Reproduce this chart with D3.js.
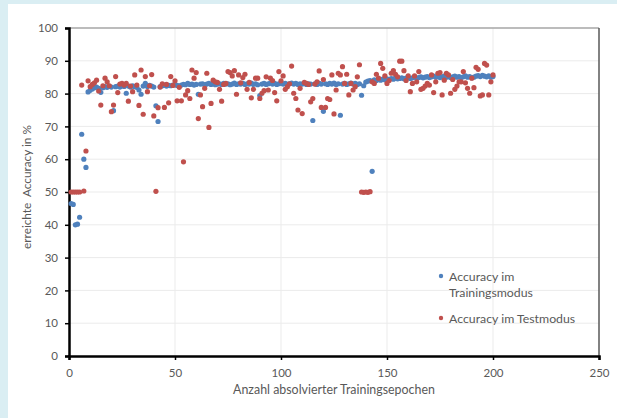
<!DOCTYPE html>
<html>
<head>
<meta charset="utf-8">
<script src="https://cdn.jsdelivr.net/npm/d3@7"></script>
<style>
  html, body { margin: 0; padding: 0; background: #daeef3; }
  svg { display: block; }
</style>
</head>
<body>
<div id="chart"></div>
<script>
// Accuracy per epoch (epochs 1..200)
var epochs = d3.range(1, 201);

var trainAcc = [
  46.5, 46.2, 40.0, 40.2, 42.3, 67.6, 60.0, 57.5, 80.5, 81.0,
  81.4, 81.8, 82.0, 81.6, 80.4, 81.8, 82.1, 81.9, 82.2, 82.0,
  74.8, 82.1, 82.3, 82.0, 82.4, 82.2, 80.1, 82.3, 82.0, 82.4,
  82.1, 81.9, 81.1, 79.8, 82.3, 83.1, 82.2, 82.5, 82.3, 82.0,
  76.3, 71.5, 82.1, 82.4, 82.6, 82.3, 82.5, 82.4, 82.6, 82.7,
  82.5, 82.3, 82.6, 82.8, 82.7, 83.1, 82.8, 82.9, 82.6, 82.8,
  79.8, 82.9, 83.0, 82.7, 82.9, 83.1, 82.8, 83.0, 82.7, 82.9,
  83.0, 82.8, 83.1, 82.9, 83.0, 82.7, 82.9, 83.2, 82.8, 83.0,
  82.9, 83.1, 82.8, 83.0, 82.9, 83.2, 82.8, 83.0, 82.7, 79.4,
  82.9, 83.1, 82.8, 83.0, 83.2, 82.9, 83.1, 82.8, 83.0, 83.2,
  82.9, 83.1, 82.8, 83.0, 83.2, 82.9, 83.1, 82.8, 83.0, 82.9,
  83.1, 82.8, 83.0, 82.9, 71.8, 83.0, 82.8, 83.1, 82.9, 74.6,
  83.0, 82.8, 83.1, 82.9, 83.2, 82.8, 83.0, 73.4, 82.9, 83.1,
  82.8, 83.0, 83.2, 82.9, 83.1, 82.8, 83.0, 79.5, 82.4, 83.5,
  83.8, 84.0, 56.3, 84.2, 84.0, 84.3, 84.1, 84.4, 84.2, 84.5,
  84.3, 84.6, 84.4, 84.7, 84.5, 84.6, 84.8, 84.5, 84.7, 84.9,
  84.6, 84.8, 85.0, 84.7, 84.9, 85.1, 84.8, 85.0, 85.2, 84.9,
  85.1, 85.3, 85.0, 85.2, 84.9, 85.1, 85.3, 85.0, 85.2, 84.9,
  85.1, 85.3, 85.0, 85.2, 84.9, 85.1, 85.4, 85.0, 85.2, 84.8,
  85.0, 85.3, 85.5, 85.2, 85.6, 85.3, 85.1, 85.4, 85.0, 85.2
];

var testAcc = [
  50.0, 50.0, 50.0, 50.0, 50.0, 82.6, 50.3, 62.5, 83.9, 82.1,
  82.8, 83.3, 84.1, 80.8, 76.5, 82.4, 84.7, 83.6, 82.4, 74.5,
  76.5, 85.2, 80.3, 82.9, 83.1, 82.6, 83.1, 77.7, 82.3, 80.6,
  85.7, 82.6, 76.4, 87.2, 73.7, 85.2, 80.6, 82.4, 85.8, 73.2,
  50.2, 75.7, 82.0, 83.0, 75.8, 82.8, 77.2, 85.2, 82.5, 83.9,
  77.8, 81.9, 77.8, 59.2, 79.6, 80.9, 78.5, 87.2, 84.7, 86.4,
  72.4, 79.6, 76.0, 81.6, 86.2, 69.7, 77.0, 84.1, 83.6, 83.4,
  81.3, 77.7, 82.8, 83.1, 86.7, 86.4, 85.4, 87.0, 79.8, 85.7,
  83.3, 84.9, 85.9, 81.3, 83.4, 78.7, 81.3, 84.7, 84.7, 78.5,
  80.1, 80.9, 85.1, 81.1, 84.7, 84.0, 80.3, 77.8, 86.7, 83.9,
  85.4, 81.3, 82.1, 83.0, 88.4, 80.1, 78.5, 75.0, 81.6, 73.9,
  83.4, 83.1, 82.8, 77.5, 78.5, 82.9, 83.6, 86.9, 75.8, 84.3,
  75.8, 78.5, 78.2, 85.7, 73.8, 81.1, 86.2, 85.7, 88.2, 83.1,
  85.9, 79.6, 83.1, 81.1, 82.1, 85.1, 88.8, 50.0, 49.9, 50.0,
  49.9, 50.1, 83.6, 83.1, 85.9, 84.7, 89.2, 87.7, 85.4, 83.1,
  84.0, 86.2, 87.0, 85.9, 85.1, 89.9, 89.9, 87.0, 84.0, 85.4,
  80.6, 83.1, 85.4, 83.6, 86.7, 81.3, 81.6, 82.3, 83.1, 82.6,
  85.7, 80.3, 83.6, 86.2, 86.4, 79.6, 84.1, 86.2, 85.7, 80.1,
  84.3, 81.3, 82.3, 83.6, 83.6, 86.7, 83.3, 81.6, 80.1, 84.7,
  81.8, 88.0, 87.4, 79.3, 79.6, 89.2, 88.7, 79.6, 83.6, 85.7
];

var xTicks = [0, 50, 100, 150, 200, 250];
var yTicks = [0, 10, 20, 30, 40, 50, 60, 70, 80, 90, 100];
var seriesColors = ["#4f81bd", "#c0504d"];

var W = 617, H = 418;
var margin = { left: 69, right: 18, top: 28, bottom: 62 };

var svg = d3.select("#chart")
  .append("svg")
  .attr("width", W)
  .attr("height", H);

// white chart area, light blue shows on left and top
svg.append("rect")
  .attr("x", 8).attr("y", 4)
  .attr("width", W - 8).attr("height", H - 4)
  .attr("fill", "#ffffff");

var x = d3.scaleLinear().domain([0, 250]).range([margin.left, W - margin.right]);
var y = d3.scaleLinear().domain([0, 100]).range([H - margin.bottom, margin.top]);

var font = "Lato, 'Open Sans', sans-serif";
var textCol = "#595959";

// gridlines
svg.append("g")
  .selectAll("line")
  .data(yTicks.slice(1, -1))
  .enter().append("line")
  .attr("x1", x(0)).attr("x2", x(250))
  .attr("y1", function (d) { return y(d); })
  .attr("y2", function (d) { return y(d); })
  .attr("stroke", "#ebebeb")
  .attr("stroke-width", 1);

svg.append("g")
  .selectAll("line")
  .data(xTicks.slice(1, -1))
  .enter().append("line")
  .attr("x1", function (d) { return x(d); })
  .attr("x2", function (d) { return x(d); })
  .attr("y1", y(0)).attr("y2", y(100))
  .attr("stroke", "#ebebeb")
  .attr("stroke-width", 1);

// top and right frame
svg.append("line")
  .attr("x1", x(0)).attr("x2", x(250))
  .attr("y1", y(100)).attr("y2", y(100))
  .attr("stroke", "#a6a6a6").attr("stroke-width", 1.5);
svg.append("line")
  .attr("x1", x(250)).attr("x2", x(250))
  .attr("y1", y(100)).attr("y2", y(0))
  .attr("stroke", "#595959").attr("stroke-width", 1.5);

// axes
var xAxis = d3.axisBottom(x).tickValues(xTicks).tickSize(4).tickPadding(9);
var yAxis = d3.axisLeft(y).tickValues(yTicks).tickSize(4).tickPadding(7);

var gx = svg.append("g")
  .attr("transform", "translate(0," + y(0) + ")")
  .call(xAxis);
var gy = svg.append("g")
  .attr("transform", "translate(" + x(0) + ",0)")
  .call(yAxis);

[gx, gy].forEach(function (g) {
  g.select(".domain").attr("stroke", "#000").attr("stroke-width", 2.5);
  g.selectAll(".tick line").attr("stroke", "#000").attr("stroke-width", 1.5);
  g.selectAll(".tick text")
    .attr("fill", textCol)
    .style("font-family", font)
    .style("font-size", "11.5px");
});

// points: training first, test on top
var train = epochs.map(function (e, i) { return { x: e, y: trainAcc[i] }; });
var test = epochs.map(function (e, i) { return { x: e, y: testAcc[i] }; });

svg.append("g")
  .selectAll("circle")
  .data(train)
  .enter().append("circle")
  .attr("cx", function (d) { return x(d.x); })
  .attr("cy", function (d) { return y(d.y); })
  .attr("r", 2.6)
  .attr("fill", seriesColors[0]);

svg.append("g")
  .selectAll("circle")
  .data(test)
  .enter().append("circle")
  .attr("cx", function (d) { return x(d.x); })
  .attr("cy", function (d) { return y(d.y); })
  .attr("r", 2.6)
  .attr("fill", seriesColors[1]);

// axis titles
svg.append("text")
  .attr("transform", "translate(31," + 187 + ") rotate(-90)")
  .attr("text-anchor", "middle")
  .attr("fill", textCol)
  .style("font-family", font)
  .style("font-size", "11.8px")
  .style("white-space", "pre")
  .text("erreichte  Accuracy in %");

svg.append("text")
  .attr("x", 334)
  .attr("y", 394)
  .attr("text-anchor", "middle")
  .attr("fill", textCol)
  .style("font-family", font)
  .style("font-size", "12.4px")
  .text("Anzahl absolvierter Trainingsepochen");

// legend
var legendRows = [
  { lines: ["Accuracy im", "Trainingsmodus"], y: 276, color: seriesColors[0] },
  { lines: ["Accuracy im Testmodus"], y: 318, color: seriesColors[1] }
];

var leg = svg.append("g").selectAll("g")
  .data(legendRows)
  .enter().append("g");

leg.append("circle")
  .attr("cx", 441)
  .attr("cy", function (d) { return d.y; })
  .attr("r", 2.2)
  .attr("fill", function (d) { return d.color; });

leg.append("text")
  .attr("x", 449)
  .attr("y", function (d) { return d.y + 4.5; })
  .attr("fill", textCol)
  .style("font-family", font)
  .style("font-size", "12.3px")
  .selectAll("tspan")
  .data(function (d) { return d.lines; })
  .enter().append("tspan")
  .attr("x", 449)
  .attr("dy", function (d, i) { return i === 0 ? 0 : 16; })
  .text(function (d) { return d; });
</script>
</body>
</html>
